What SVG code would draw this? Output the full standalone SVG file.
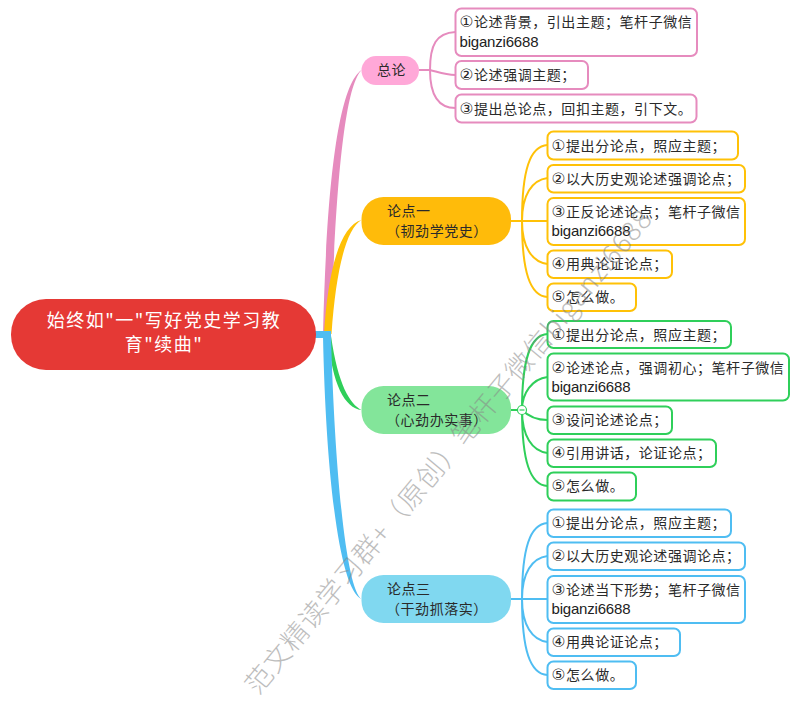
<svg xmlns="http://www.w3.org/2000/svg" width="800" height="701" viewBox="0 0 800 701">
<style>
text{font-family:"Noto Sans CJK SC","Noto Sans",sans-serif;font-size:14px;letter-spacing:.55px;fill:#2a2a2a}
.d{font-family:"DejaVu Sans",sans-serif;font-size:15.5px;letter-spacing:.65px}
.lat{font-family:"Liberation Sans",sans-serif;font-size:15px;letter-spacing:0;fill:#222}
.root{font-size:18px;letter-spacing:1.5px;fill:#fff;text-anchor:middle}
.wm{font-size:27px;font-weight:300;letter-spacing:1px;fill:#888;opacity:.55}
.c{fill:none;stroke-width:2}
.b{fill:#fff;stroke-width:2}
.pk{stroke:#E68BBE}.or{stroke:#FFC107}.gr{stroke:#2FCF5A}.bl{stroke:#4FBDF2}
</style>
<rect width="800" height="701" fill="#fff"/>
<g id="connectors">
<path fill="#E68BBE" d="M323,334C327,170 340,85 361.5,70C346,86 336,170 331,334Z"/>
<path fill="#FFC107" d="M324,334C328,270 340,226 361.5,220C346,229 336,270 331.5,334Z"/>
<path fill="#2FCF5A" d="M328,336C332,385 345,408 361.5,410C350,404 338,385 331,336Z"/>
<path fill="#4FBDF2" d="M323,336C326,480 340,590 361.5,599C347,590 335,480 331,336Z"/>
<rect x="315" y="331" width="16" height="7" fill="#4FBDF2"/>
<path class="c pk" d="M419,70H430M455.5,32C436,33 430,45 430,70C430,92 436,108 455.5,108M430,70C438,72 445,75 455.5,75"/>
<path class="c or" d="M511,221H547.5M547.5,145C530,146 522,170 522,221C522,272 530,296 547.5,297M547.5,178C532,180 522,195 522,221C522,247 532,262 547.5,264"/>
<path class="c gr" d="M511,410H522M547.5,334C530,335 522,360 522,410C522,461 530,485 547.5,486M547.5,377C532,379 522,393 522,410C522,436 532,451 547.5,453M522,410C528,416 537,420 547.5,420"/>
<path class="c bl" d="M511,599H547.5M547.5,523C530,524 522,548 522,599C522,650 530,674 547.5,675M547.5,556C532,558 522,573 522,599C522,625 532,640 547.5,642"/>
</g>
<g id="root"><rect x="11" y="299" width="305" height="71" rx="35" fill="#E53935"/>
<text class="root" x="164" y="327">始终如"一"写好党史学习教</text><text class="root" x="164" y="351">育"续曲"</text></g>
<g id="n0"><rect x="361.5" y="56" width="57.5" height="29" rx="14.5" fill="#FFA8D8"/><text x="377" y="75">总论</text></g>
<g id="n0a"><rect class="b pk" x="455.5" y="8.5" width="241.5" height="47.5" rx="6"/><text x="459.5" y="27"><tspan class="d">①</tspan>论述背景，引出主题；笔杆子微信</text><text class="lat" x="459.5" y="46.5" textLength="79">biganzi6688</text></g>
<g id="n0b"><rect class="b pk" x="455.5" y="61" width="132.5" height="28" rx="6"/><text x="459.5" y="80"><tspan class="d">②</tspan>论述强调主题；</text></g>
<g id="n0c"><rect class="b pk" x="455.5" y="94.5" width="241" height="28" rx="6"/><text x="459.5" y="113.5"><tspan class="d">③</tspan>提出总论点，回扣主题，引下文。</text></g>
<g id="n1"><rect x="361.5" y="197" width="149.5" height="48" rx="22" fill="#FFBB0A"/><text x="387" y="216">论点一</text><text x="386" y="235.5">（韧劲学党史）</text></g>
<g id="n1a"><rect class="b or" x="547.5" y="131.5" width="190.5" height="28" rx="6"/><text x="551.5" y="150.5"><tspan class="d">①</tspan>提出分论点，照应主题；</text></g>
<g id="n1b"><rect class="b or" x="547.5" y="165" width="197.5" height="27.5" rx="6"/><text x="551.5" y="183.5"><tspan class="d">②</tspan>以大历史观论述强调论点；</text></g>
<g id="n1c"><rect class="b or" x="547.5" y="198" width="197.5" height="47" rx="6"/><text x="551.5" y="216.5"><tspan class="d">③</tspan>正反论述论点；笔杆子微信</text><text class="lat" x="551.5" y="236" textLength="79">biganzi6688</text></g>
<g id="n1d"><rect class="b or" x="547.5" y="250.5" width="124.5" height="27.5" rx="6"/><text x="551.5" y="269"><tspan class="d">④</tspan>用典论证论点；</text></g>
<g id="n1e"><rect class="b or" x="547.5" y="283.5" width="88.5" height="27.5" rx="6"/><text x="551.5" y="302"><tspan class="d">⑤</tspan>怎么做。</text></g>
<g id="n2"><rect x="361.5" y="386" width="149.5" height="48" rx="22" fill="#83E59A"/><text x="387" y="405">论点二</text><text x="386" y="424.5">（心劲办实事）</text></g>
<g id="n2a"><rect class="b gr" x="547.5" y="321" width="183.5" height="27" rx="6"/><text x="551.5" y="339.5"><tspan class="d">①</tspan>提出分论点，照应主题；</text></g>
<g id="n2b"><rect class="b gr" x="547.5" y="353.5" width="241.5" height="47" rx="6"/><text x="551.5" y="372.5"><tspan class="d">②</tspan>论述论点，强调初心；笔杆子微信</text><text class="lat" x="551.5" y="392" textLength="79">biganzi6688</text></g>
<g id="n2c"><rect class="b gr" x="547.5" y="406.5" width="124.5" height="27.5" rx="6"/><text x="551.5" y="425"><tspan class="d">③</tspan>设问论述论点；</text></g>
<g id="n2d"><rect class="b gr" x="547.5" y="439.5" width="168.5" height="27.5" rx="6"/><text x="551.5" y="458"><tspan class="d">④</tspan>引用讲话，论证论点；</text></g>
<g id="n2e"><rect class="b gr" x="547.5" y="472.5" width="88.5" height="28" rx="6"/><text x="551.5" y="491"><tspan class="d">⑤</tspan>怎么做。</text></g>
<g id="collapse"><circle cx="522" cy="410" r="4.5" fill="#fff" stroke="#2FCF5A" stroke-width="1.2"/><path d="M519.5,410H524.5" stroke="#2FCF5A" stroke-width="1.2"/></g>
<g id="n3"><rect x="361.5" y="575" width="149.5" height="48" rx="22" fill="#80D8F0"/><text x="387" y="594">论点三</text><text x="386" y="613.5">（干劲抓落实）</text></g>
<g id="n3a"><rect class="b bl" x="547.5" y="509.5" width="183.5" height="27.5" rx="6"/><text x="551.5" y="528"><tspan class="d">①</tspan>提出分论点，照应主题；</text></g>
<g id="n3b"><rect class="b bl" x="547.5" y="542.5" width="197.5" height="27.5" rx="6"/><text x="551.5" y="561"><tspan class="d">②</tspan>以大历史观论述强调论点；</text></g>
<g id="n3c"><rect class="b bl" x="547.5" y="576" width="197.5" height="47" rx="6"/><text x="551.5" y="594.5"><tspan class="d">③</tspan>论述当下形势；笔杆子微信</text><text class="lat" x="551.5" y="614" textLength="79">biganzi6688</text></g>
<g id="n3d"><rect class="b bl" x="547.5" y="628.5" width="132.5" height="27.5" rx="6"/><text x="551.5" y="647"><tspan class="d">④</tspan>用典论证论点；</text></g>
<g id="n3e"><rect class="b bl" x="547.5" y="661.5" width="88.5" height="27.5" rx="6"/><text x="551.5" y="680"><tspan class="d">⑤</tspan>怎么做。</text></g>
<text class="wm" transform="translate(258,696) rotate(-50.3)">范文精读学习群+（原创）笔杆子微信biganzi6688</text>
</svg>
